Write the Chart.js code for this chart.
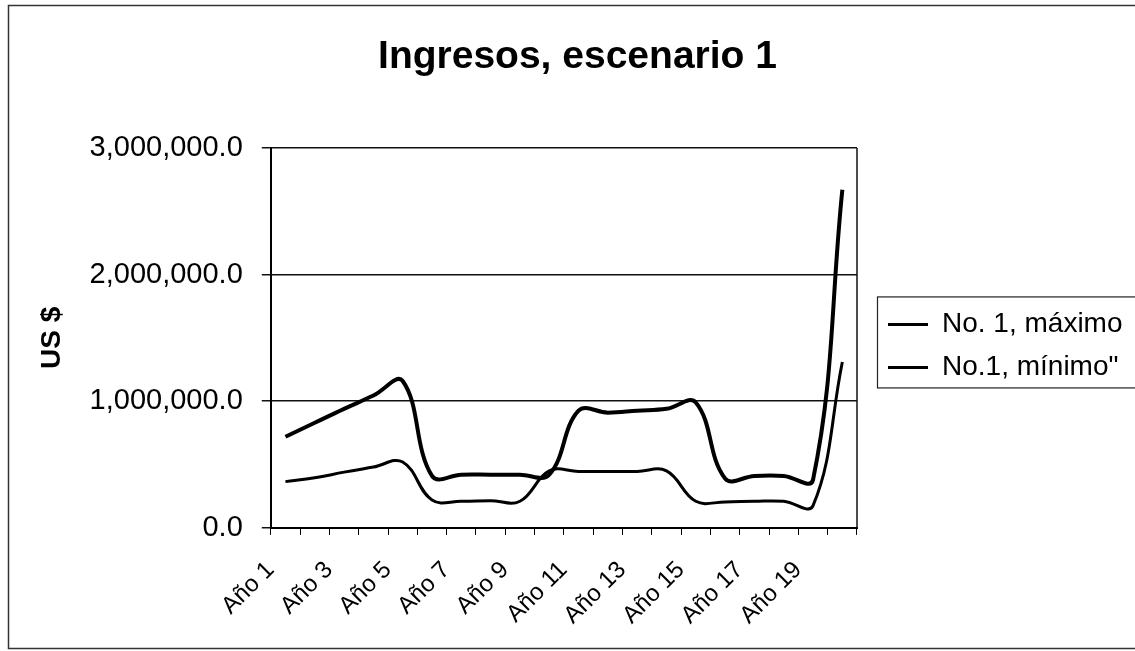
<!DOCTYPE html>
<html>
<head>
<meta charset="utf-8">
<script src="https://cdn.jsdelivr.net/npm/chart.js@4/dist/chart.umd.min.js"></script>
<style>
  html, body { margin: 0; padding: 0; background: #fff; }
  #wrap { position: relative; width: 1135px; height: 651px; }
  canvas { display: block; }
</style>
</head>
<body>
<div id="wrap"><canvas id="chart" width="1135" height="651"></canvas></div>
<script>
// Income per year, scenario 1 (US $)
const categories = [
  'Año 1', 'Año 2', 'Año 3', 'Año 4', 'Año 5',
  'Año 6', 'Año 7', 'Año 8', 'Año 9', 'Año 10',
  'Año 11', 'Año 12', 'Año 13', 'Año 14', 'Año 15',
  'Año 16', 'Año 17', 'Año 18', 'Año 19', 'Año 20'
];
const seriesNames = ['No. 1, máximo', 'No.1, mínimo"'];
const maxValues = [
  720000, 830000, 940000, 1045000, 1160000,
  410000, 420000, 420000, 420000, 420000,
  925000, 910000, 925000, 940000, 990000,
  390000, 410000, 410000, 380000, 2670000
];
const minValues = [
  365000, 395000, 440000, 480000, 520000,
  220000, 210000, 215000, 210000, 450000,
  445000, 445000, 445000, 450000, 210000,
  205000, 210000, 210000, 175000, 1310000
];
const yTickValues = [0, 1000000, 2000000, 3000000];

const FONT = "'Liberation Sans', Arial, sans-serif";
const INK = '#000';
const LEGEND_SHIFT_X = 16;
const LEGEND_SHIFT_Y = 8;

// Outer frame, plot border and legend frame
const framePlugin = {
  id: 'frames',
  afterLayout(chart) {
    const lg = chart.legend;
    if (lg) {
      lg.left += LEGEND_SHIFT_X; lg.right += LEGEND_SHIFT_X;
      lg.top += LEGEND_SHIFT_Y; lg.bottom += LEGEND_SHIFT_Y;
    }
  },
  beforeDraw(chart) {
    const ctx = chart.ctx;
    ctx.save();
    ctx.fillStyle = '#fff';
    ctx.fillRect(0, 0, chart.width, chart.height);
    ctx.strokeStyle = '#333';
    ctx.lineWidth = 1.5;
    ctx.strokeRect(8.5, 5.5, chart.width + 10, 643);
    ctx.restore();
  },
  afterDraw(chart) {
    const ctx = chart.ctx;
    const a = chart.chartArea;
    ctx.save();
    ctx.strokeStyle = '#111';
    ctx.lineWidth = 1.5;
    ctx.beginPath();
    ctx.moveTo(a.right, a.top);
    ctx.lineTo(a.right, a.bottom);
    ctx.stroke();
    const lg = chart.legend;
    if (lg && lg.legendHitBoxes && lg.legendHitBoxes.length) {
      const hb = lg.legendHitBoxes;
      const last = hb[hb.length - 1];
      const top = hb[0].top - 14;
      const bottom = last.top + last.height + 6;
      const left = hb[0].left - 11;
      ctx.strokeStyle = '#222';
      ctx.lineWidth = 1.2;
      ctx.strokeRect(left + 0.5, top + 0.5, chart.width - left + 10, bottom - top);
    }
    ctx.restore();
  }
};

new Chart(document.getElementById('chart'), {
  type: 'line',
  data: {
    labels: categories,
    datasets: [
      {
        label: seriesNames[0],
        data: maxValues,
        borderColor: INK,
        backgroundColor: INK,
        borderWidth: 4,
        pointRadius: 0,
        tension: 0.4,
        fill: false
      },
      {
        label: seriesNames[1],
        data: minValues,
        borderColor: INK,
        backgroundColor: INK,
        borderWidth: 3,
        pointRadius: 0,
        tension: 0.4,
        fill: false
      }
    ]
  },
  options: {
    responsive: false,
    animation: false,
    devicePixelRatio: 1,
    layout: { padding: { left: 20, top: 10, right: 0, bottom: 0 } },
    plugins: {
      title: {
        display: true,
        text: 'Ingresos, escenario 1',
        color: INK,
        font: { family: FONT, size: 39, weight: 'bold' },
        padding: { top: 24, bottom: 67.2 }
      },
      legend: {
        position: 'right',
        fullSize: false,
        align: 'center',
        labels: {
          color: INK,
          font: { family: FONT, size: 28 },
          boxWidth: 40,
          boxHeight: 3,
          padding: 15,
          generateLabels(chart) {
            const items = Chart.defaults.plugins.legend.labels.generateLabels(chart);
            items.forEach(it => { it.fillStyle = INK; it.strokeStyle = INK; it.lineWidth = 0; });
            return items;
          }
        }
      },
      tooltip: { enabled: false }
    },
    scales: {
      x: {
        type: 'category',
        offset: true,
        grid: {
          offset: true,
          drawOnChartArea: false,
          drawTicks: true,
          tickLength: 7,
          color: INK,
          lineWidth: 1
        },
        border: { display: true, color: INK, width: 2 },
        ticks: {
          autoSkip: false,
          minRotation: 45,
          maxRotation: 45,
          padding: 21,
          labelOffset: -15,
          color: INK,
          font: { family: FONT, size: 24 },
          callback(value, index) {
            return index % 2 === 0 ? this.getLabelForValue(value) : '';
          }
        },
        afterFit(scale) {
          scale.paddingRight = 278;
        }
      },
      y: {
        min: 0,
        max: 3000000,
        afterBuildTicks(scale) {
          scale.ticks = yTickValues.map(v => ({ value: v }));
        },
        grid: {
          color: '#111',
          lineWidth: 1.5,
          tickLength: 9
        },
        border: { display: true, color: INK, width: 2 },
        ticks: {
          padding: 19,
          color: INK,
          font: { family: FONT, size: 29 },
          callback(value) {
            return Number(value).toLocaleString('en-US', { minimumFractionDigits: 1, maximumFractionDigits: 1 });
          }
        },
        title: {
          display: true,
          text: 'US $',
          color: INK,
          font: { family: FONT, size: 28, weight: 'bold' },
          padding: { top: 15, bottom: 2 }
        }
      }
    }
  },
  plugins: [framePlugin]
});
</script>
</body>
</html>
